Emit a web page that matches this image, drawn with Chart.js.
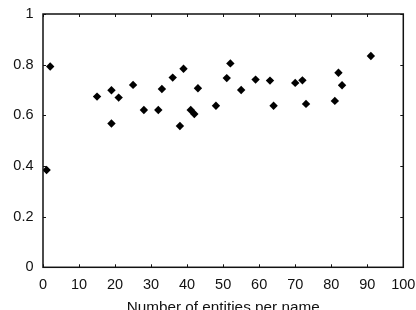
<!DOCTYPE html>
<html>
<head>
<meta charset="utf-8">
<script src="https://cdn.jsdelivr.net/npm/chart.js@4/dist/chart.umd.min.js"></script>
<style>
  html, body { margin: 0; padding: 0; background: #fff; overflow: hidden; }
  #wrap { width: 420px; height: 330px; }
</style>
</head>
<body>
<div id="wrap"><canvas id="grafico" width="420" height="330"></canvas></div>
<script>
/* ---------- Dados ---------- */
const entidades = [1, 2, 15, 19, 19, 21, 25, 28, 32, 33, 36, 38, 39, 41, 42, 43,
  48, 51, 52, 55, 59, 63, 64, 70, 72, 73, 81, 82, 83, 91];
const proporcao = [0.384, 0.793, 0.674, 0.699, 0.568, 0.670, 0.720, 0.621, 0.621, 0.704,
  0.749, 0.558, 0.784, 0.621, 0.605, 0.707, 0.638, 0.747, 0.805, 0.700, 0.741, 0.737,
  0.638, 0.728, 0.738, 0.645, 0.657, 0.768, 0.719, 0.834];
const xTitulo = 'Number of entities per name';

/* ---------- Moldura com ticks internos ---------- */
const moldura = {
  id: 'moldura',
  afterDraw(chart) {
    const { ctx, chartArea: a, scales } = chart;
    ctx.save();
    ctx.strokeStyle = '#111';
    ctx.lineWidth = 1.5;
    ctx.strokeRect(a.left, a.top, a.right - a.left, a.bottom - a.top);
    ctx.lineWidth = 1;
    ctx.beginPath();
    scales.x.ticks.forEach(t => {
      const px = Math.round(scales.x.getPixelForValue(t.value)) + 0.5;
      ctx.moveTo(px, a.bottom); ctx.lineTo(px, a.bottom - 3);
      ctx.moveTo(px, a.top); ctx.lineTo(px, a.top + 3);
    });
    scales.y.ticks.forEach(t => {
      const py = Math.round(scales.y.getPixelForValue(t.value)) + 0.5;
      ctx.moveTo(a.left, py); ctx.lineTo(a.left + 3, py);
      ctx.moveTo(a.right, py); ctx.lineTo(a.right - 3, py);
    });
    ctx.stroke();
    ctx.restore();
  }
};

const fonte = { family: '"Liberation Sans", Arial, sans-serif', size: 14.5 };
const fonteTitulo = { family: '"Liberation Sans", Arial, sans-serif', size: 15.3 };

new Chart(document.getElementById('grafico'), {
  type: 'scatter',
  data: {
    datasets: [{
      data: entidades.map((x, i) => ({ x, y: proporcao[i] })),
      pointStyle: 'rectRot',
      pointRadius: 4.2,
      pointBackgroundColor: '#000',
      pointBorderWidth: 0
    }]
  },
  options: {
    responsive: false,
    animation: false,
    layout: { padding: { top: 14, right: 16.7, bottom: 0, left: 0 } },
    plugins: { legend: { display: false }, tooltip: { enabled: false } },
    scales: {
      x: {
        type: 'linear', min: 0, max: 100,
        ticks: { stepSize: 10, color: '#111', font: fonte, padding: 9, maxRotation: 0 },
        grid: { display: false, drawTicks: false },
        border: { display: false },
        title: { display: true, text: xTitulo, color: '#111', font: fonteTitulo, padding: { top: 0, bottom: 13 } },
        afterFit(s) { s.height = 62.7; s.paddingLeft = 0; s.paddingRight = 0; }
      },
      y: {
        min: 0, max: 1,
        ticks: { stepSize: 0.2, color: '#111', font: fonte, padding: 9.5,
          callback: v => String(+v.toFixed(1)) },
        grid: { display: false, drawTicks: false },
        border: { display: false },
        afterFit(s) { s.width = 43; s.paddingTop = 0; s.paddingBottom = 0; }
      }
    }
  },
  plugins: [moldura]
});
</script>
</body>
</html>
